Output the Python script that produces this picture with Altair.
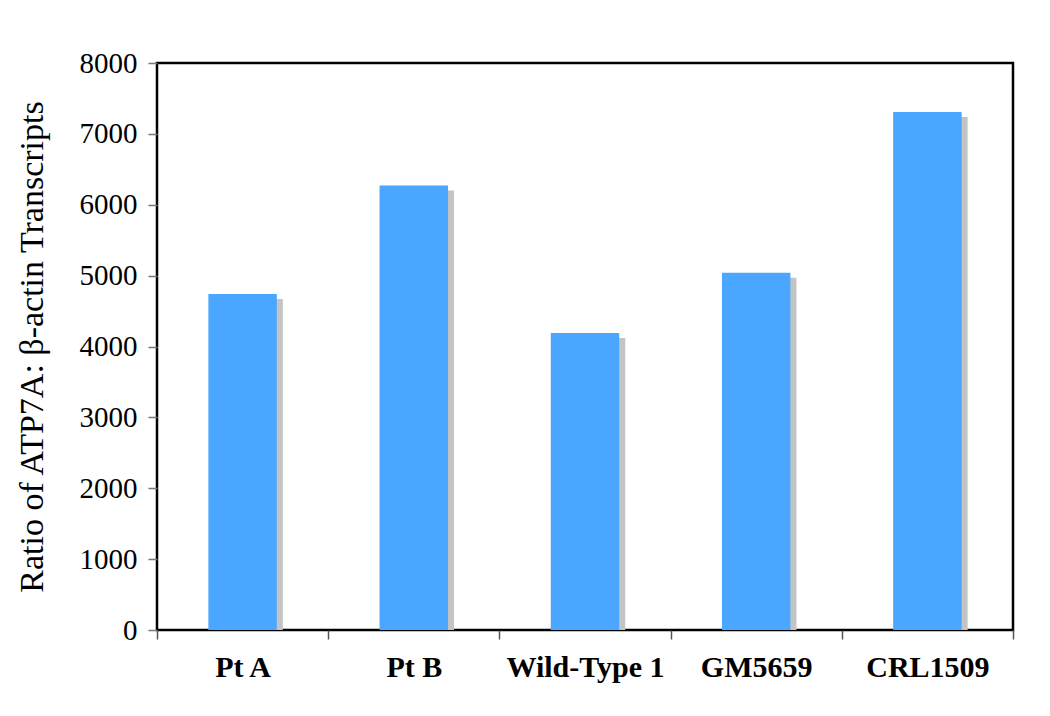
import altair as alt
import pandas as pd

categories = ["Pt A", "Pt B", "Wild-Type 1", "GM5659", "CRL1509"]
values = [4740, 6270, 4190, 5040, 7310]
y_ticks = [0, 1000, 2000, 3000, 4000, 5000, 6000, 7000, 8000]

df = pd.DataFrame({"cat": categories, "val": values})

x_enc = alt.X("cat:N", sort=categories, title=None,
              scale=alt.Scale(paddingInner=0, paddingOuter=0),
              axis=alt.Axis(labelAngle=0, tickBand="extent", domain=False,
                            labelFont="Liberation Serif", labelFontWeight="bold",
                            labelFontSize=30, labelColor="black", labelPadding=13,
                            tickColor="#555555", tickSize=9, tickWidth=1.5))
y_enc = alt.Y("val:Q", title="Ratio of ATP7A: β-actin Transcripts",
              scale=alt.Scale(domain=[0, 8000], nice=False),
              axis=alt.Axis(values=y_ticks, grid=False, domain=False, format="d",
                            labelFont="Liberation Serif", labelFontSize=29,
                            labelColor="black", labelPadding=11,
                            tickColor="#777777", tickSize=9, tickWidth=1.5,
                            titleFont="Liberation Serif", titleFontSize=34,
                            titleFontWeight="normal", titleColor="black",
                            titlePadding=30))

base = alt.Chart(df)
shadow = base.mark_bar(color="#c4c4c4", width=alt.RelativeBandSize(0.4),
                       xOffset=6, yOffset=5, clip=True).encode(x=x_enc, y=y_enc)
bars = base.mark_bar(color="#4aa6ff", width=alt.RelativeBandSize(0.4)).encode(x=x_enc, y=y_enc)

chart = (shadow + bars).properties(
    width=856, height=567,
    autosize=alt.AutoSizeParams(type="none"),
    padding={"left": 149, "top": 55, "right": 29, "bottom": 78},
).configure_view(stroke="black", strokeWidth=2.5)

chart.save("out.html", embed_options={"renderer": "svg", "actions": False})
